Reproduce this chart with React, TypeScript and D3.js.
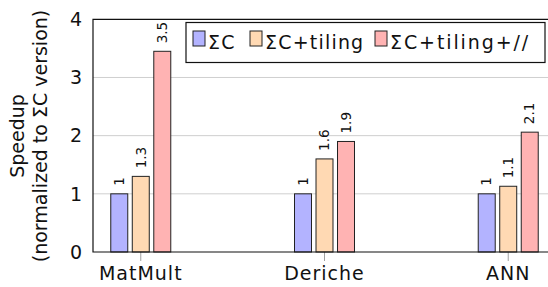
import React, { useEffect, useRef } from "react";
import * as d3 from "d3";

const categories = ["MatMult", "Deriche", "ANN"];
const seriesNames = ["ΣC", "ΣC+tiling", "ΣC+tiling+//"];
const seriesColors = ["#b3b3ff", "#ffd9b3", "#ffb3b3"];
// values per series, in category order
const sigmaC = [1, 1, 1];
const sigmaCTiling = [1.3, 1.6, 1.13];
const sigmaCTilingPar = [3.45, 1.9, 2.06];
const valueLabels = [
  ["1", "1", "1"],
  ["1.3", "1.6", "1.1"],
  ["3.5", "1.9", "2.1"],
];
const yTicks = [0, 1, 2, 3, 4];

const FONT = '"DejaVu Sans", sans-serif';

export default function App() {
  const svgRef = useRef<SVGSVGElement>(null);

  useEffect(() => {
    const svg = d3.select(svgRef.current);
    svg.selectAll("*").remove();

    const left = 93, right = 556, top = 19.3, bottom = 252;
    const series = [sigmaC, sigmaCTiling, sigmaCTilingPar];

    const x = d3.scalePoint<string>().domain(categories).range([left, right]).padding(0.26);
    const inner = d3.scaleBand<number>().domain([0, 1, 2]).range([-30, 30]).paddingInner(0.21).paddingOuter(0);
    const y = d3.scaleLinear().domain([0, 4]).range([bottom, top]);

    // grid
    svg.append("g")
      .selectAll("line")
      .data(yTicks.slice(1, 4))
      .enter()
      .append("line")
      .attr("x1", left).attr("x2", right)
      .attr("y1", (d) => y(d)).attr("y2", (d) => y(d))
      .attr("stroke", "#cfcfcf").attr("stroke-width", 1);

    // x ticks
    svg.append("g")
      .selectAll("line")
      .data(categories)
      .enter()
      .append("line")
      .attr("x1", (d) => x(d)!).attr("x2", (d) => x(d)!)
      .attr("y1", bottom).attr("y2", bottom + 9)
      .attr("stroke", "#a0a0a0").attr("stroke-width", 1);

    // bars
    series.forEach((vals, si) => {
      const g = svg.append("g");
      g.selectAll("rect")
        .data(vals)
        .enter()
        .append("rect")
        .attr("x", (d, i) => x(categories[i])! + inner(si)!)
        .attr("y", (d) => y(d))
        .attr("width", inner.bandwidth())
        .attr("height", (d) => bottom - y(d))
        .attr("fill", seriesColors[si])
        .attr("stroke", "#222")
        .attr("stroke-width", 1);

      g.selectAll("text")
        .data(vals)
        .enter()
        .append("text")
        .attr("transform", (d, i) => {
          const cx = x(categories[i])! + inner(si)! + inner.bandwidth() / 2;
          return `translate(${cx},${y(d) - 8}) rotate(-90)`;
        })
        .attr("dy", "0.35em")
        .style("font-family", FONT)
        .style("font-size", "13.5px")
        .attr("fill", "#111")
        .text((d, i) => valueLabels[si][i]);
    });

    // axis frame
    svg.append("path")
      .attr("d", `M${right},${top}H${left}V${bottom}H${right}`)
      .attr("fill", "none")
      .attr("stroke", "#111")
      .attr("stroke-width", 1.2);

    const label = (sel: d3.Selection<SVGTextElement, any, any, any>) =>
      sel.style("font-family", FONT).style("font-size", "19px").style("letter-spacing", "1px").attr("fill", "#111");

    // y tick labels
    svg.append("g")
      .selectAll("text")
      .data(yTicks)
      .enter()
      .append("text")
      .attr("x", left - 10)
      .attr("y", (d) => y(d))
      .attr("dy", "0.36em")
      .attr("text-anchor", "end")
      .call(label)
      .text((d) => String(d));

    // x tick labels
    svg.append("g")
      .selectAll("text")
      .data(categories)
      .enter()
      .append("text")
      .attr("x", (d) => x(d)!)
      .attr("y", 280)
      .attr("text-anchor", "middle")
      .call(label)
      .text((d) => d);

    // y title
    const yt = svg.append("text")
      .attr("transform", `translate(24,136) rotate(-90)`)
      .attr("text-anchor", "middle")
      .call(label)
      .style("letter-spacing", "0px");
    yt.append("tspan").attr("x", 0).attr("dy", 0).text("Speedup");
    yt.append("tspan").attr("x", 0).attr("dy", 23).text("(normalized to ΣC version)");

    // legend
    const lg = svg.append("g");
    lg.append("rect")
      .attr("x", 186).attr("y", 22.5).attr("width", 359).attr("height", 40)
      .attr("fill", "white").attr("stroke", "#111").attr("stroke-width", 1.2);
    const swatchX = [193, 250, 375];
    seriesNames.forEach((name, i) => {
      lg.append("rect")
        .attr("x", swatchX[i]).attr("y", 31).attr("width", 12).attr("height", 15)
        .attr("fill", seriesColors[i]).attr("stroke", "#222").attr("stroke-width", 1);
      lg.append("text")
        .attr("x", swatchX[i] + 15).attr("y", 49)
        .call(label)
        .style("letter-spacing", i === 2 ? "1.9px" : "1.2px")
        .text(name);
    });
  }, []);

  return <svg ref={svgRef} width={548} height={287} style={{ position: "absolute", left: 0, top: 0 }} />;
}
